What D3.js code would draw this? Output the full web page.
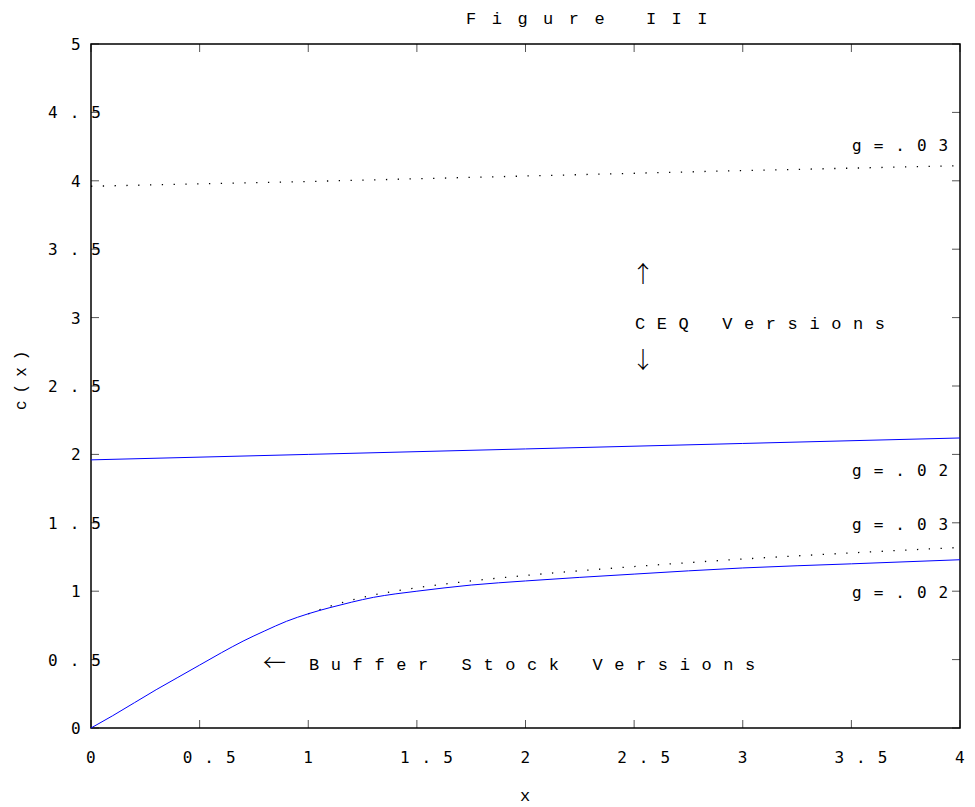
<!DOCTYPE html>
<html>
<head>
<meta charset="utf-8">
<script src="https://cdn.jsdelivr.net/npm/d3@7"></script>
<style>
  body { margin: 0; background: #fff; }
  svg { display: block; }
</style>
</head>
<body>
<div id="chart"></div>
<script>
// chart data
const xTicks = [0, 0.5, 1, 1.5, 2, 2.5, 3, 3.5, 4];
const yTicks = [0, 0.5, 1, 1.5, 2, 2.5, 3, 3.5, 4, 4.5, 5];

const ceqX = [0, 1, 2, 3, 4];
const ceq03 = [3.96, 3.995, 4.035, 4.075, 4.11];
const ceq02 = [1.96, 2.0, 2.04, 2.08, 2.12];

const bufX = [0, 0.1, 0.2, 0.3, 0.4, 0.5, 0.6, 0.7, 0.8, 0.9, 1.0, 1.1, 1.2, 1.3, 1.4, 1.5, 1.75, 2, 2.5, 3, 3.5, 4];
const buf02 = [0, 0.09, 0.185, 0.28, 0.37, 0.46, 0.55, 0.635, 0.71, 0.78, 0.835, 0.88, 0.92, 0.955, 0.98, 1.0, 1.045, 1.075, 1.125, 1.17, 1.2, 1.23];
const buf03X = [1.0, 1.1, 1.25, 1.5, 1.75, 2, 2.5, 3, 3.5, 4];
const buf03 = [0.835, 0.89, 0.955, 1.025, 1.075, 1.115, 1.18, 1.235, 1.28, 1.32];

// curve labels at the right edge (y in data units)
const gLabels = ["g=.03", "g=.02", "g=.03", "g=.02"];
const gLabelY = [4.26, 1.885, 1.49, 0.995];

const width = 975, height = 807;
const margin = { top: 44, right: 15, bottom: 79, left: 91 };

const svg = d3.select("#chart").append("svg")
  .attr("width", width)
  .attr("height", height);

const x = d3.scaleLinear().domain([0, 4]).range([margin.left, width - margin.right]);
const y = d3.scaleLinear().domain([0, 5]).range([height - margin.bottom, margin.top]);

const tickFont = "'DejaVu Sans Mono', monospace";
const serifMono = "'Liberation Mono', 'Courier New', monospace";
const arrowFont = "'Noto Sans CJK JP', 'Noto Sans CJK SC', sans-serif";
const tickLen = 8;
const spacing = "12px";
// only spread labels with more than one character
const spread = d => String(d).length > 1 ? spacing : "0px";

// ticks on all four sides, pointing in
const g = svg.append("g");
xTicks.forEach(v => {
  g.append("line").attr("x1", x(v)).attr("x2", x(v))
    .attr("y1", y(0)).attr("y2", y(0) - tickLen);
  g.append("line").attr("x1", x(v)).attr("x2", x(v))
    .attr("y1", y(5)).attr("y2", y(5) + tickLen);
});
yTicks.forEach(v => {
  g.append("line").attr("x1", x(0)).attr("x2", x(0) + tickLen)
    .attr("y1", y(v)).attr("y2", y(v));
  g.append("line").attr("x1", x(4)).attr("x2", x(4) - tickLen)
    .attr("y1", y(v)).attr("y2", y(v));
});
g.selectAll("line").attr("stroke", "#555").attr("stroke-width", 1);

// frame
svg.append("rect")
  .attr("x", x(0)).attr("y", y(5))
  .attr("width", x(4) - x(0)).attr("height", y(0) - y(5))
  .attr("fill", "none").attr("stroke", "#000").attr("stroke-width", 1.5);

// tick labels: placed as if unspaced, then drawn spaced out
svg.append("g").selectAll("text")
  .data(xTicks)
  .join("text")
  .attr("x", d => x(d) - 5 - (String(d).length - 1) * 6)
  .attr("y", 763)
  .style("font-family", tickFont)
  .style("font-size", "16px")
  .style("letter-spacing", spread)
  .text(d => String(d));

// y labels run over the axis line like in the original
svg.append("g").selectAll("text")
  .data(yTicks)
  .join("text")
  .attr("x", d => 71 - (String(d).length - 1) * 11.5)
  .attr("y", d => y(d) + 6)
  .style("font-family", tickFont)
  .style("font-size", "16px")
  .style("letter-spacing", spread)
  .text(d => String(d));

// lines
const line = d3.line().x(d => x(d[0])).y(d => y(d[1]));
const smooth = d3.line().x(d => x(d[0])).y(d => y(d[1])).curve(d3.curveMonotoneX);
const zip = (xs, ys) => xs.map((v, i) => [v, ys[i]]);

svg.append("path").datum(zip(ceqX, ceq03))
  .attr("d", line).attr("fill", "none")
  .attr("stroke", "#000").attr("stroke-width", 1.3)
  .attr("stroke-dasharray", "1.3 10.5");

svg.append("path").datum(zip(buf03X, buf03))
  .attr("d", smooth).attr("fill", "none")
  .attr("stroke", "#000").attr("stroke-width", 1.3)
  .attr("stroke-dasharray", "1.3 10.5");

svg.append("path").datum(zip(ceqX, ceq02))
  .attr("d", smooth)
  .attr("fill", "none").attr("stroke", "#0000ff").attr("stroke-width", 1);

svg.append("path").datum(zip(bufX, buf02))
  .attr("d", smooth)
  .attr("fill", "none").attr("stroke", "#0000ff").attr("stroke-width", 1);

// g = labels
svg.append("g").selectAll("text")
  .data(gLabels)
  .join("text")
  .attr("x", 852)
  .attr("y", (d, i) => y(gLabelY[i]) + 6)
  .style("font-family", tickFont)
  .style("font-size", "16px")
  .style("letter-spacing", spacing)
  .text(d => d);

// annotations
const arrow = (px, py, ch, anchor) => svg.append("text")
  .attr("x", px).attr("y", py)
  .attr("text-anchor", anchor)
  .attr("fill", "#000")
  .style("font-family", arrowFont)
  .style("font-weight", 300)
  .style("font-size", "23px")
  .text(ch);

arrow(643, 282, "\u2191", "middle");
arrow(643, 368, "\u2193", "middle");
arrow(263, 671, "\u2190", "start");

svg.append("text")
  .attr("x", 635).attr("y", 329)
  .style("font-family", serifMono)
  .style("font-size", "17px")
  .style("letter-spacing", "11.6px")
  .text("CEQ Versions");

svg.append("text")
  .attr("x", 309).attr("y", 670)
  .style("font-family", serifMono)
  .style("font-size", "17px")
  .style("letter-spacing", "11.6px")
  .text("Buffer Stock Versions");

// title and axis labels
svg.append("text")
  .attr("x", 466).attr("y", 24)
  .style("font-family", serifMono)
  .style("font-size", "17px")
  .style("letter-spacing", "15.5px")
  .text("Figure III");

svg.append("text")
  .attr("x", 525).attr("y", 801)
  .attr("text-anchor", "middle")
  .style("font-family", serifMono)
  .style("font-size", "17px")
  .text("x");

svg.append("text")
  .attr("transform", "translate(26,410) rotate(-90)")
  .style("font-family", serifMono)
  .style("font-size", "16px")
  .style("letter-spacing", "7px")
  .text("c(x)");
</script>
</body>
</html>
